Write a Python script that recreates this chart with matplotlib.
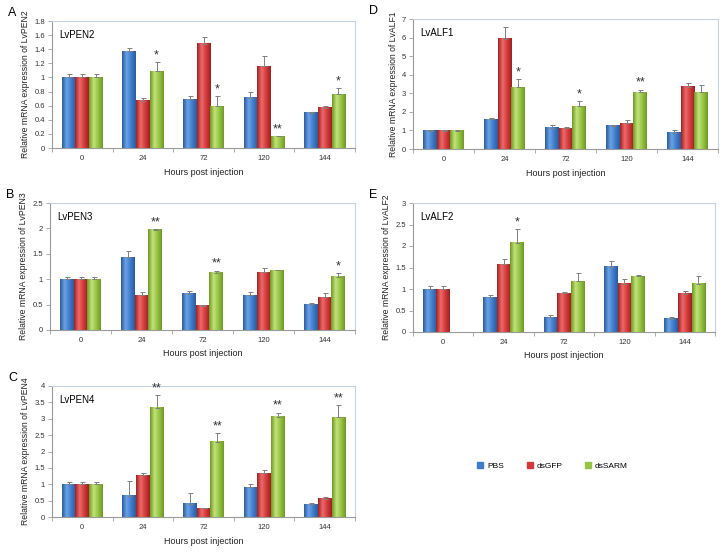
import numpy as np
import matplotlib
matplotlib.use("Agg")
import matplotlib.pyplot as plt
from matplotlib.colors import LinearSegmentedColormap
from matplotlib.lines import Line2D

plt.rcParams['font.family'] = ['Liberation Sans', 'DejaVu Sans']

hours = ['0', '24', '72', '120', '144']
groups = ['PBS', 'dsGFP', 'dsSARM']

# Panel A: LvPEN2
pen2_pbs = [1.00, 1.37, 0.69, 0.71, 0.50]
pen2_gfp = [1.00, 0.67, 1.48, 1.16, 0.57]
pen2_sarm = [1.00, 1.09, 0.59, 0.17, 0.76]
pen2_pbs_err = [0.05, 0.05, 0.05, 0.09, 0.01]
pen2_gfp_err = [0.05, 0.04, 0.09, 0.15, 0.03]
pen2_sarm_err = [0.05, 0.13, 0.14, 0.005, 0.09]
pen2_stars = ['', '*', '*', '**', '*']

# Panel B: LvPEN3
pen3_pbs = [1.00, 1.43, 0.71, 0.68, 0.51]
pen3_gfp = [1.00, 0.68, 0.48, 1.14, 0.64]
pen3_sarm = [1.00, 1.97, 1.13, 1.18, 1.05]
pen3_pbs_err = [0.05, 0.13, 0.06, 0.06, 0.03]
pen3_gfp_err = [0.05, 0.06, 0.02, 0.09, 0.08]
pen3_sarm_err = [0.05, 0.02, 0.04, 0.01, 0.08]
pen3_stars = ['', '**', '**', '', '*']

# Panel C: LvPEN4
pen4_pbs = [1.00, 0.65, 0.40, 0.91, 0.39]
pen4_gfp = [1.00, 1.28, 0.27, 1.34, 0.55]
pen4_sarm = [1.00, 3.33, 2.30, 3.06, 3.05]
pen4_pbs_err = [0.06, 0.45, 0.33, 0.09, 0.03]
pen4_gfp_err = [0.06, 0.07, 0.02, 0.11, 0.05]
pen4_sarm_err = [0.06, 0.40, 0.26, 0.13, 0.38]
pen4_stars = ['', '**', '**', '**', '**']

# Panel D: LvALF1
alf1_pbs = [0.98, 1.60, 1.15, 1.24, 0.88]
alf1_gfp = [0.98, 5.93, 1.12, 1.38, 3.35]
alf1_sarm = [0.98, 3.33, 2.30, 3.05, 3.05]
alf1_pbs_err = [0.05, 0.07, 0.14, 0.05, 0.15]
alf1_gfp_err = [0.05, 0.65, 0.07, 0.18, 0.18]
alf1_sarm_err = [0.05, 0.43, 0.26, 0.15, 0.38]
alf1_stars = ['', '*', '*', '**', '']

# Panel E: LvALF2
alf2_pbs = [1.00, 0.81, 0.34, 1.52, 0.31]
alf2_gfp = [1.00, 1.58, 0.90, 1.12, 0.89]
alf2_sarm = [np.nan, 2.08, 1.18, 1.30, 1.12]
alf2_pbs_err = [0.06, 0.04, 0.05, 0.14, 0.03]
alf2_gfp_err = [0.06, 0.12, 0.02, 0.12, 0.07]
alf2_sarm_err = [np.nan, 0.31, 0.20, 0.03, 0.19]
alf2_stars = ['', '*', '', '', '']

panels = [
    dict(letter='A', name='LvPEN2', vals=[pen2_pbs, pen2_gfp, pen2_sarm],
         errs=[pen2_pbs_err, pen2_gfp_err, pen2_sarm_err], stars=pen2_stars,
         ymax=1.8, step=0.2, px=(52, 355, 21, 148)),
    dict(letter='B', name='LvPEN3', vals=[pen3_pbs, pen3_gfp, pen3_sarm],
         errs=[pen3_pbs_err, pen3_gfp_err, pen3_sarm_err], stars=pen3_stars,
         ymax=2.5, step=0.5, px=(50, 355, 203, 330)),
    dict(letter='C', name='LvPEN4', vals=[pen4_pbs, pen4_gfp, pen4_sarm],
         errs=[pen4_pbs_err, pen4_gfp_err, pen4_sarm_err], stars=pen4_stars,
         ymax=4.0, step=0.5, px=(52, 355, 386, 517)),
    dict(letter='D', name='LvALF1', vals=[alf1_pbs, alf1_gfp, alf1_sarm],
         errs=[alf1_pbs_err, alf1_gfp_err, alf1_sarm_err], stars=alf1_stars,
         ymax=7.0, step=1.0, px=(413, 718, 19, 149)),
    dict(letter='E', name='LvALF2', vals=[alf2_pbs, alf2_gfp, alf2_sarm],
         errs=[alf2_pbs_err, alf2_gfp_err, alf2_sarm_err], stars=alf2_stars,
         ymax=3.0, step=0.5, px=(413, 715, 203, 332)),
]

# (dark edge, light centre, mid)
shades = [('#2c5c9c', '#6aa2e6', '#3f7ccc'),
          ('#a02020', '#ee6a6a', '#d23a3a'),
          ('#6e9a22', '#c2e27a', '#96c444')]
solid = ['#3f7ccc', '#d23a3a', '#96c444']

W, H = 723, 552
fig = plt.figure(figsize=(W / 100, H / 100), dpi=100)

def fmt(v):
    s = ('%.1f' % v)
    if s.endswith('.0'):
        s = s[:-2]
    return s

bw = 0.225
x = np.arange(len(hours))
for p in panels:
    l, r, t, b = p['px']
    ax = fig.add_axes([l / W, 1 - b / H, (r - l) / W, (b - t) / H])
    ax.set_xlim(-0.5, len(hours) - 0.5)
    ax.set_ylim(0, p['ymax'])
    for gi in range(3):
        vals = np.array(p['vals'][gi], dtype=float)
        errs = np.array(p['errs'][gi], dtype=float)
        xs = x + (gi - 1) * bw
        bars = ax.bar(xs, np.nan_to_num(vals), width=bw, color=solid[gi],
                      edgecolor='none', zorder=2)
        cmap = LinearSegmentedColormap.from_list('g', [shades[gi][0], shades[gi][1], shades[gi][2], shades[gi][0]])
        grad = np.linspace(0, 1, 64).reshape(1, -1)
        for bar, v in zip(bars, vals):
            if np.isnan(v) or v <= 0:
                continue
            bx, bwid, bh = bar.get_x(), bar.get_width(), bar.get_height()
            ax.imshow(grad, cmap=cmap, aspect='auto',
                      extent=(bx, bx + bwid, 0, bh), zorder=2.1,
                      interpolation='bilinear')
        m = ~np.isnan(vals)
        ax.errorbar(xs[m], vals[m], yerr=[np.zeros(m.sum()), errs[m]], fmt='none',
                    ecolor='#7f7f7f', elinewidth=0.7, capsize=1.8, capthick=0.7,
                    zorder=3)
    sv = np.array(p['vals'][2], dtype=float)
    se = np.array(p['errs'][2], dtype=float)
    for i, s in enumerate(p['stars']):
        if s:
            ax.text(x[i] + bw, sv[i] + se[i] + p['ymax'] * 0.005, s,
                    ha='center', va='bottom', fontsize=9, color='#333333')
    ax.set_xticks(x)
    ax.set_xticklabels(hours, fontsize=5.5, color='#333333')
    ax.set_xticks(np.arange(-0.5, len(hours), 1.0), minor=True)
    ax.tick_params(axis='x', which='major', length=0, pad=5)
    ax.tick_params(axis='x', which='minor', length=3, color='#a0a0a0', width=0.6)
    yt = np.arange(0, p['ymax'] + 1e-9, p['step'])
    ax.set_yticks(yt)
    ax.set_yticklabels([fmt(v) for v in yt], fontsize=5.5, color='#333333')
    ax.tick_params(axis='y', length=3, color='#a0a0a0', width=0.6, pad=2)
    for side in ['top', 'right']:
        ax.spines[side].set_color('#c5d3e0')
        ax.spines[side].set_linewidth(0.8)
    for side in ['left', 'bottom']:
        ax.spines[side].set_color('#9a9a9a')
        ax.spines[side].set_linewidth(0.8)
    ax.set_xlabel('Hours post injection', fontsize=6.5, labelpad=4, color='#222222')
    ax.set_ylabel('Relative mRNA expression of ' + p['name'], fontsize=6.2, labelpad=3,
                  color='#222222')
    ax.text(0.025, 0.93, p['name'], transform=ax.transAxes, fontsize=7,
            ha='left', va='top')
    fig.text((l - 44) / W, 1 - (t - 8) / H, p['letter'], fontsize=9,
             ha='left', va='center')

handles = [Line2D([], [], marker='s', linestyle='none', markersize=4.5,
                  markerfacecolor=c, markeredgecolor=c) for c in solid]
fig.legend(handles, groups, loc='center', bbox_to_anchor=(552 / W, 1 - 466 / H),
           ncol=3, frameon=False, fontsize=6, handletextpad=0.3,
           columnspacing=2.6, handlelength=1.0)

fig.savefig('out.png', dpi=100)
